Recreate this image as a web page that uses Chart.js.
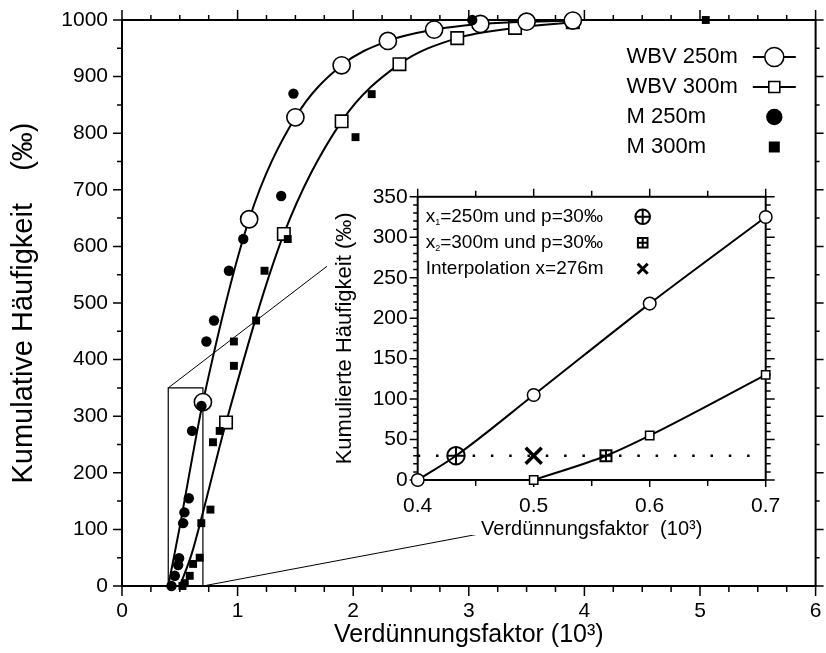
<!DOCTYPE html>
<html><head><meta charset="utf-8">
<script src="https://cdn.jsdelivr.net/npm/chart.js@4/dist/chart.umd.min.js"></script>
<style>
html,body{margin:0;padding:0;background:#fff;}
#wrap{position:relative;width:826px;height:653px;overflow:hidden;}
#main{position:absolute;left:0;top:0;}
#inset{position:absolute;left:327px;top:182px;}
</style></head><body>
<div id="wrap"><canvas id="main" width="826" height="653"></canvas><canvas id="inset" width="460" height="380"></canvas></div>
<script>
const FONT = "'Liberation Sans', Arial, sans-serif";

// ---------- data ----------
const seriesNames = ['WBV 250m', 'WBV 300m', 'M 250m', 'M 300m'];
const wbv250X = [0.4, 0.5, 0.6, 0.7, 1.1, 1.5, 1.9, 2.3, 2.7, 3.1, 3.5, 3.9];
const wbv250Y = [0, 105, 218, 325, 648, 828, 920, 963, 983, 993, 997, 999];
const wbv300X = [0.5, 0.6, 0.7, 0.9, 1.4, 1.9, 2.4, 2.9, 3.4, 3.9];
const wbv300Y = [0, 55, 130, 289, 622, 821, 922, 968, 986, 996];
const m250X = [0.428, 0.457, 0.486, 0.494, 0.529, 0.54, 0.578, 0.606, 0.687, 0.73, 0.796, 0.925, 1.049, 1.377, 1.483, 3.03];
const m250Y = [0, 18, 37, 49, 111, 130, 155, 274, 318, 432, 469, 557, 613, 689, 870, 1000];
const m300X = [0.523, 0.543, 0.586, 0.615, 0.672, 0.686, 0.765, 0.787, 0.845, 0.968, 0.968, 1.16, 1.233, 1.434, 2.02, 2.16, 5.05];
const m300Y = [0, 5, 18, 39, 50, 111, 135, 254, 274, 389, 432, 469, 557, 613, 793, 869, 1000];
const zoomBoxX = [0.4, 0.7];
const zoomBoxY = [0, 350];
// inset
const pLevel = 30;
const x1AtP = 0.433;   // x1=250m, p=30‰
const x2AtP = 0.5623;  // x2=300m, p=30‰
const interpAtP = 0.5; // interpolation x=276m
const insetLegend = [
  {main: 'x', sub: '1', rest: '=250m und p=30‰', sym: 'circleCross'},
  {main: 'x', sub: '2', rest: '=300m und p=30‰', sym: 'squareCross'},
  {main: 'Interpolation x=276m', sub: '', rest: '', sym: 'x'}
];
const mainXRange = [0, 6], mainYRange = [0, 1000];
const insetXRange = [0.4, 0.7], insetYRange = [0, 350];

const pts = (xs, ys) => xs.map((x, i) => ({x, y: ys[i]}));
const noPad = s => { s.paddingTop = 0; s.paddingBottom = 0; s.paddingLeft = 0; s.paddingRight = 0; };

// ---------- helpers ----------
function framePlugin(o) {
  return {
    id: 'frameTicks',
    beforeDatasetsDraw(chart) {
      const {ctx, chartArea: a} = chart;
      const x = chart.scales.x, y = chart.scales.y;
      ctx.save();
      ctx.strokeStyle = '#000';
      ctx.lineWidth = o.frame;
      ctx.strokeRect(a.left, a.top, a.right - a.left, a.bottom - a.top);
      ctx.lineWidth = o.tick;
      ctx.beginPath();
      const nx = Math.round((x.max - x.min) / o.xMinor);
      for (let i = 0; i <= nx; i++) {
        const v = x.min + i * o.xMinor;
        const maj = Math.abs(v / o.xMajor - Math.round(v / o.xMajor)) < 1e-6;
        const p = x.getPixelForValue(v);
        ctx.moveTo(p, a.bottom); ctx.lineTo(p, a.bottom + (maj ? o.bMaj : o.bMin));
        ctx.moveTo(p, a.top); ctx.lineTo(p, a.top - (maj ? o.tMaj : o.tMin));
      }
      const ny = Math.round((y.max - y.min) / o.yMinor);
      for (let i = 0; i <= ny; i++) {
        const v = y.min + i * o.yMinor;
        const maj = Math.abs(v / o.yMajor - Math.round(v / o.yMajor)) < 1e-6;
        const p = y.getPixelForValue(v);
        ctx.moveTo(a.left, p); ctx.lineTo(a.left - (maj ? o.lMaj : o.lMin), p);
        ctx.moveTo(a.right, p); ctx.lineTo(a.right + (maj ? o.rMaj : o.rMin), p);
      }
      ctx.stroke();
      ctx.restore();
    }
  };
}

function sym(ctx, kind, cx, cy, s) {
  ctx.save();
  ctx.strokeStyle = '#000';
  ctx.fillStyle = '#000';
  ctx.beginPath();
  if (kind === 'circleCross') {
    ctx.lineWidth = 2;
    ctx.arc(cx, cy, s, 0, Math.PI * 2);
    ctx.moveTo(cx - s, cy); ctx.lineTo(cx + s, cy);
    ctx.moveTo(cx, cy - s); ctx.lineTo(cx, cy + s);
    ctx.stroke();
  } else if (kind === 'squareCross') {
    ctx.lineWidth = 2;
    ctx.rect(cx - s, cy - s, 2 * s, 2 * s);
    ctx.moveTo(cx - s, cy); ctx.lineTo(cx + s, cy);
    ctx.moveTo(cx, cy - s); ctx.lineTo(cx, cy + s);
    ctx.stroke();
  } else if (kind === 'x') {
    ctx.lineWidth = 3;
    ctx.moveTo(cx - s, cy - s); ctx.lineTo(cx + s, cy + s);
    ctx.moveTo(cx + s, cy - s); ctx.lineTo(cx - s, cy + s);
    ctx.stroke();
  } else if (kind === 'lineCircle' || kind === 'lineSquare') {
    ctx.lineWidth = 2;
    ctx.moveTo(cx - 21.5, cy); ctx.lineTo(cx + 21.5, cy);
    ctx.stroke();
    ctx.beginPath();
    ctx.fillStyle = '#fff';
    ctx.lineWidth = 1.6;
    if (kind === 'lineCircle') ctx.arc(cx, cy, s, 0, Math.PI * 2);
    else ctx.rect(cx - s, cy - s, 2 * s, 2 * s);
    ctx.fill(); ctx.stroke();
  } else if (kind === 'dot') {
    ctx.arc(cx, cy, s, 0, Math.PI * 2); ctx.fill();
  } else if (kind === 'sq') {
    ctx.rect(cx - s, cy - s, 2 * s, 2 * s); ctx.fill();
  }
  ctx.restore();
}

const whiteBg = {
  id: 'whiteBg',
  beforeDraw(chart) {
    const c = chart.ctx;
    c.save(); c.fillStyle = '#fff'; c.fillRect(0, 0, chart.width, 353); c.restore();
  }
};

// ---------- inset chart ----------
const insetLegendPlugin = {
  id: 'insetLegend',
  afterDraw(chart) {
    const {ctx, chartArea: a} = chart;
    ctx.save();
    ctx.fillStyle = '#000';
    ctx.textBaseline = 'middle';
    const rowsY = [20, 46, 72];
    insetLegend.forEach((r, i) => {
      let x = a.left + 8;
      const y = a.top + rowsY[i];
      ctx.font = '19px ' + FONT;
      ctx.fillText(r.main, x, y);
      x += ctx.measureText(r.main).width;
      if (r.sub) {
        ctx.font = '9px ' + FONT;
        ctx.fillText(r.sub, x, y + 6);
        x += ctx.measureText(r.sub).width;
        ctx.font = '19px ' + FONT;
        ctx.fillText(r.rest, x, y);
      }
      const sx = a.left + 225;
      if (r.sym === 'circleCross') sym(ctx, r.sym, sx, y, 7.3);
      else if (r.sym === 'squareCross') sym(ctx, r.sym, sx, y, 4.8);
      else sym(ctx, r.sym, sx, y, 5);
    });
    ctx.restore();
  }
};

// curve points inside the inset range, plus the p-level crossing point that lies on each curve
const inset250 = pts(wbv250X, wbv250Y).filter(p => p.x <= insetXRange[1]);
const inset300 = pts(wbv300X, wbv300Y).filter(p => p.x <= insetXRange[1]);
const curve250 = inset250.concat([{x: x1AtP, y: pLevel}]).sort((a, b) => a.x - b.x);
const curve300 = inset300.concat([{x: x2AtP, y: pLevel}]).sort((a, b) => a.x - b.x);

const insetChart = new Chart(document.getElementById('inset'), {
  type: 'scatter',
  data: {
    datasets: [
      {data: [{x: interpAtP, y: pLevel}], pointStyle: 'crossRot', pointRadius: 11.3, borderColor: '#000', pointBorderWidth: 3.5, clip: false},
      {data: [{x: x1AtP, y: pLevel}], pointStyle: 'circle', pointRadius: 8.7, backgroundColor: 'rgba(0,0,0,0)', borderColor: '#000', pointBorderWidth: 2, clip: false},
      {data: [{x: x1AtP, y: pLevel}], pointStyle: 'cross', pointRadius: 8.7, borderColor: '#000', pointBorderWidth: 2, clip: false},
      {data: [{x: x2AtP, y: pLevel}], pointStyle: 'rect', pointRadius: 7.8, backgroundColor: 'rgba(0,0,0,0)', borderColor: '#000', pointBorderWidth: 2, clip: false},
      {data: [{x: x2AtP, y: pLevel}], pointStyle: 'cross', pointRadius: 5.5, borderColor: '#000', pointBorderWidth: 2, clip: false},
      {data: inset250, pointStyle: 'circle', pointRadius: 6.3, backgroundColor: '#fff', borderColor: '#000', pointBorderWidth: 1.5, clip: false},
      {data: inset300, pointStyle: 'rect', pointRadius: 5.9, backgroundColor: '#fff', borderColor: '#000', pointBorderWidth: 1.5, clip: false},
      {data: curve250, showLine: true, cubicInterpolationMode: 'monotone', borderColor: '#000', borderWidth: 2, pointRadius: 0, clip: false},
      {data: curve300, showLine: true, cubicInterpolationMode: 'monotone', borderColor: '#000', borderWidth: 2, pointRadius: 0, clip: false},
      {data: [{x: insetXRange[0], y: pLevel}, {x: insetXRange[1], y: pLevel}], showLine: true, borderColor: '#000', borderWidth: 2.5,
       borderDash: [2.5, 15.8], pointRadius: 0, clip: false}
    ]
  },
  options: {
    responsive: false, animation: false, events: [],
    layout: {padding: {left: 0, right: 21.3, top: 14.7, bottom: 0}},
    plugins: {legend: {display: false}, tooltip: {enabled: false}},
    scales: {
      x: {type: 'linear', min: insetXRange[0], max: insetXRange[1], position: 'bottom',
          afterFit: s => { s.height = 82; noPad(s); },
          grid: {display: false, drawTicks: false}, border: {display: false},
          ticks: {stepSize: 0.1, padding: 14, color: '#000', maxRotation: 0, font: {family: FONT, size: 21},
                  callback: v => Number(v).toFixed(1)},
          title: {display: true, text: 'Verdünnungsfaktor  (10³)', color: '#000', font: {family: FONT, size: 20}, padding: {top: 0, bottom: 20.5}}},
      y: {type: 'linear', min: insetYRange[0], max: insetYRange[1],
          afterFit: s => { s.width = 90.7; noPad(s); },
          grid: {display: false, drawTicks: false}, border: {display: false},
          ticks: {stepSize: 50, padding: 10, color: '#000', font: {family: FONT, size: 21}, callback: v => String(v)},
          title: {display: true, text: 'Kumulierte Häufigkeit (‰)', color: '#000', font: {family: FONT, size: 22}, padding: {top: 4.5, bottom: 0}}}
    }
  },
  plugins: [whiteBg, framePlugin({frame: 2, tick: 1.5, xMajor: 0.1, xMinor: 0.05, yMajor: 50, yMinor: 10,
    bMaj: 7, bMin: 6, tMaj: 8, tMin: 6, lMaj: 8, lMin: 4.5, rMaj: 9, rMin: 5}), insetLegendPlugin]
});

// ---------- main chart ----------
const connectPlugin = {
  id: 'connect',
  beforeDatasetsDraw(chart) {
    const {ctx} = chart;
    const xs = chart.scales.x, ys = chart.scales.y;
    const ic = insetChart, cv = ic.canvas;
    const ox = cv.offsetLeft, oy = cv.offsetTop;
    ctx.save();
    ctx.strokeStyle = '#000';
    ctx.lineWidth = 1;
    ctx.beginPath();
    ctx.moveTo(xs.getPixelForValue(zoomBoxX[0]), ys.getPixelForValue(zoomBoxY[1]));
    ctx.lineTo(ox + ic.scales.x.getPixelForValue(zoomBoxX[0]), oy + ic.scales.y.getPixelForValue(zoomBoxY[1]));
    ctx.moveTo(xs.getPixelForValue(zoomBoxX[1]), ys.getPixelForValue(zoomBoxY[0]));
    ctx.lineTo(ox + ic.scales.x.getPixelForValue(zoomBoxX[1]), oy + ic.scales.y.getPixelForValue(zoomBoxY[0]));
    ctx.stroke();
    ctx.restore();
  }
};

const mainLegendPlugin = {
  id: 'mainLegend',
  afterDraw(chart) {
    const {ctx, chartArea: a} = chart;
    ctx.save();
    ctx.fillStyle = '#000';
    ctx.textBaseline = 'middle';
    ctx.font = '22px ' + FONT;
    const syms = [['lineCircle', 9.5], ['lineSquare', 5.5], ['dot', 8.2], ['sq', 5.5]];
    seriesNames.forEach((n, i) => {
      const y = a.top + 37 + i * 30;
      ctx.fillText(n, a.right - 189, y);
      sym(ctx, syms[i][0], a.right - 41.3, y, syms[i][1]);
    });
    ctx.restore();
  }
};

const box = [
  {x: zoomBoxX[0], y: zoomBoxY[0]}, {x: zoomBoxX[0], y: zoomBoxY[1]},
  {x: zoomBoxX[1], y: zoomBoxY[1]}, {x: zoomBoxX[1], y: zoomBoxY[0]}
];

new Chart(document.getElementById('main'), {
  type: 'scatter',
  data: {
    datasets: [
      {label: seriesNames[2], data: pts(m250X, m250Y), pointStyle: 'circle', pointRadius: 5.2,
       backgroundColor: '#000', borderColor: '#000', pointBorderWidth: 0, clip: false},
      {label: seriesNames[3], data: pts(m300X, m300Y), pointStyle: 'rect', pointRadius: 5.6,
       backgroundColor: '#000', borderColor: '#000', pointBorderWidth: 0, clip: false},
      {label: seriesNames[0], data: pts(wbv250X, wbv250Y), showLine: true, cubicInterpolationMode: 'monotone',
       borderColor: '#000', borderWidth: 2, pointStyle: 'circle',
       pointRadius: c => (c.raw && c.raw.x >= 0.7 ? 8.6 : 0),
       pointBackgroundColor: '#fff', pointBorderColor: '#000', pointBorderWidth: 1.6, clip: false},
      {label: seriesNames[1], data: pts(wbv300X, wbv300Y), showLine: true, cubicInterpolationMode: 'monotone',
       borderColor: '#000', borderWidth: 2, pointStyle: 'rect',
       pointRadius: c => (c.raw && c.raw.x >= 0.9 ? 8.8 : 0),
       pointBackgroundColor: '#fff', pointBorderColor: '#000', pointBorderWidth: 1.6, clip: false},
      {label: 'box', data: box, showLine: true, borderColor: '#000', borderWidth: 1.2, pointRadius: 0, tension: 0, clip: false}
    ]
  },
  options: {
    responsive: false, animation: false, events: [],
    layout: {padding: {left: 0, right: 8, top: 20, bottom: 0}},
    plugins: {legend: {display: false}, tooltip: {enabled: false}},
    scales: {
      x: {type: 'linear', min: mainXRange[0], max: mainXRange[1], position: 'bottom',
          afterFit: s => { s.height = 67; noPad(s); },
          grid: {display: false, drawTicks: false}, border: {display: false},
          ticks: {stepSize: 1, padding: 13, color: '#000', maxRotation: 0, font: {family: FONT, size: 21}, callback: v => String(v)},
          title: {display: true, text: 'Verdünnungsfaktor (10³)', color: '#000', font: {family: FONT, size: 25}, padding: {top: 0, bottom: 3}}},
      y: {type: 'linear', min: mainYRange[0], max: mainYRange[1],
          afterFit: s => { s.width = 122; noPad(s); },
          grid: {display: false, drawTicks: false}, border: {display: false},
          ticks: {stepSize: 100, padding: 14, color: '#000', font: {family: FONT, size: 21}, callback: v => String(v)},
          title: {display: true, text: 'Kumulative Häufigkeit    (‰)', color: '#000', font: {family: FONT, size: 29}, padding: {top: 6.5, bottom: 0}}}
    }
  },
  plugins: [framePlugin({frame: 2, tick: 1.5, xMajor: 1, xMinor: 0.25, yMajor: 100, yMinor: 50,
    bMaj: 10, bMin: 6, tMaj: 10, tMin: 5, lMaj: 9, lMin: 5, rMaj: 8, rMin: 4}), connectPlugin, mainLegendPlugin]
});
</script>
</body></html>
